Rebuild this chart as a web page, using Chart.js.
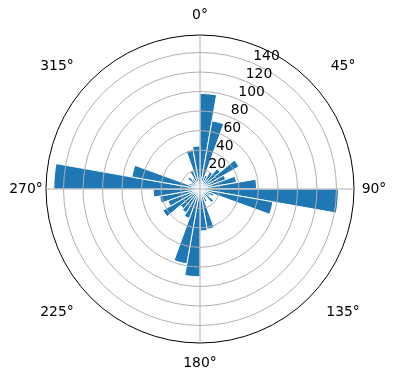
<!DOCTYPE html>
<html>
<head>
<meta charset="utf-8">
<script src="https://cdn.jsdelivr.net/npm/chart.js@4/dist/chart.umd.min.js"></script>
<style>
  html, body { margin: 0; padding: 0; background: #fff; }
  #wrap { width: 396px; height: 380px; position: relative; }
</style>
</head>
<body>
<div id="wrap"><canvas id="c" width="396" height="380"></canvas></div>
<script>
// Bin start angles (degrees, clockwise from north), 10° bins
const binLabels = [];
for (let a = 0; a < 360; a += 10) binLabels.push(a + '°');

// Bar heights per 10° bin
const counts = [98, 71, 15, 20, 27, 46, 28, 38, 58,
                142, 76, 15, 12, 18, 10, 14, 42, 43,
                90, 78, 32, 28, 26, 44, 35, 42, 48,
                150, 71, 12, 10, 16, 12, 20, 41, 44];

// Radial tick labels and angular labels
const radialTicks = [20, 40, 60, 80, 100, 120, 140];
const angleTicks = [0, 45, 90, 135, 180, 225, 270, 315];
const angleTickLabels = ['0°', '45°', '90°', '135°', '180°', '225°', '270°', '315°'];
const rMax = 158;

const FONT = '13.9px "DejaVu Sans", sans-serif';

const labelPlugin = {
  id: 'polarLabels',
  afterDraw(chart) {
    const s = chart.scales.r;
    const ctx = chart.ctx;
    ctx.save();
    ctx.font = FONT;
    ctx.fillStyle = '#000';
    // radial labels along 22.5°
    const ra = 22.5 * Math.PI / 180;
    ctx.textAlign = 'left';
    ctx.textBaseline = 'alphabetic';
    radialTicks.forEach(v => {
      const d = s.getDistanceFromCenterForValue(v);
      const x = s.xCenter + d * Math.sin(ra);
      const y = s.yCenter - d * Math.cos(ra);
      ctx.fillText(String(v), x + 1, y - 3);
    });
    // angular labels
    ctx.textAlign = 'center';
    ctx.textBaseline = 'middle';
    const outer = s.getDistanceFromCenterForValue(rMax) + 20;
    angleTicks.forEach((a, i) => {
      const t = a * Math.PI / 180;
      const sx = Math.sin(t), cy = Math.cos(t);
      const extra = 20 * Math.abs(Math.sin(2 * t)) * Math.sign(sx);
      const x = s.xCenter + outer * sx + extra;
      const y = s.yCenter - outer * cy;
      ctx.fillText(angleTickLabels[i], x, y);
    });
    ctx.restore();
  }
};

new Chart(document.getElementById('c'), {
  type: 'polarArea',
  data: {
    labels: binLabels,
    datasets: [{
      data: counts,
      backgroundColor: '#1f77b4',
      borderColor: '#ffffff',
      borderWidth: 1
    }]
  },
  options: {
    responsive: false,
    animation: false,
    layout: { padding: { left: 46, right: 42, top: 35, bottom: 37 } },
    plugins: { legend: { display: false }, tooltip: { enabled: false } },
    scales: {
      r: {
        min: 0,
        max: rMax,
        bounds: 'data',
        startAngle: 0,
        ticks: { display: false, stepSize: 20, includeBounds: true },
        grid: {
          z: 1,
          circular: true,
          color: (c) => (c.tick && c.tick.value >= rMax) ? '#000000' : '#b0b0b0',
          lineWidth: 1
        },
        angleLines: {
          display: true,
          color: (c) => (c.index % 9 === 0) ? '#b0b0b0' : 'rgba(0,0,0,0)',
          lineWidth: (c) => (c.index % 9 === 0) ? 1 : 0
        },
        pointLabels: { display: false }
      }
    }
  },
  plugins: [labelPlugin]
});
</script>
</body>
</html>
